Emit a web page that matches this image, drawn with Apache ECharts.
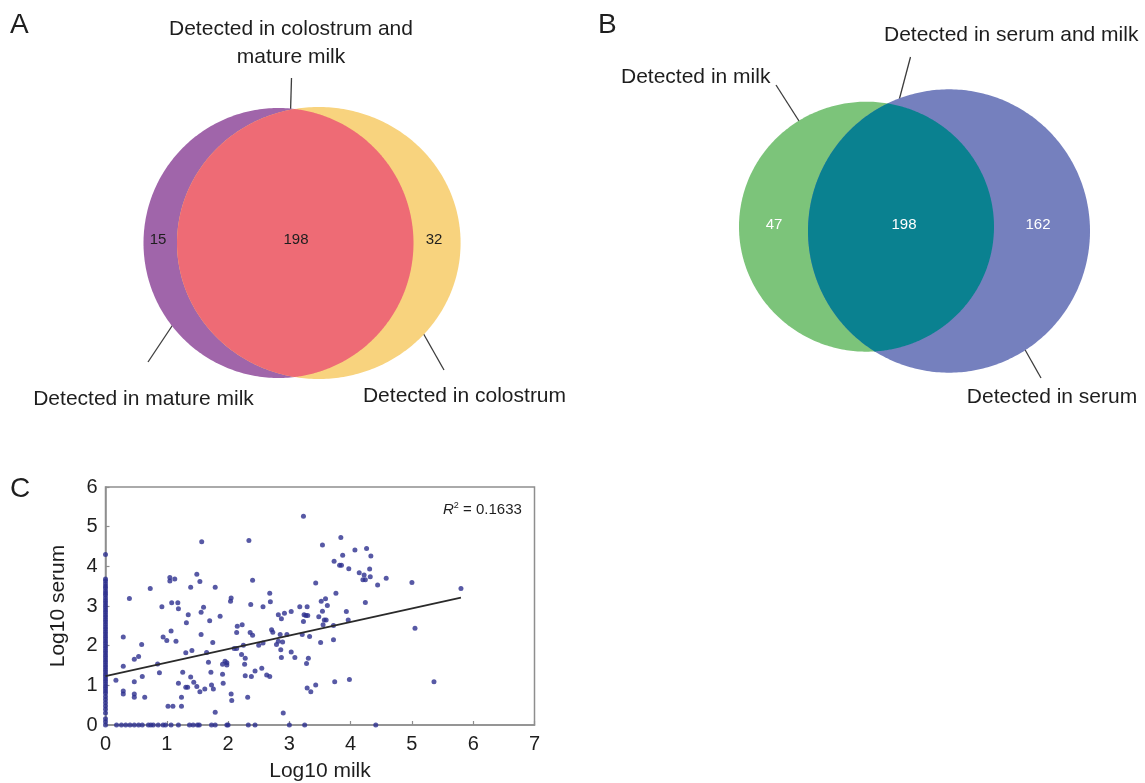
<!DOCTYPE html>
<html>
<head>
<meta charset="utf-8">
<title>Milk and serum detection</title>
<script src="https://cdn.jsdelivr.net/npm/echarts@6/dist/echarts.min.js"></script>
<style>
  html, body { margin: 0; padding: 0; background: #fff; }
  #chart { width: 1145px; height: 783px; }
</style>
</head>
<body>
<div id="chart"></div>
<script>
const FONT = "'Liberation Sans', Arial, sans-serif";
const INK = "#1e1e1e";

// panel A: colostrum vs mature milk
const vennANames = ["Detected in mature milk", "Detected in colostrum", "Detected in colostrum and\nmature milk"];
const vennACounts = [15, 32, 198];

// panel B: milk vs serum
const vennBNames = ["Detected in milk", "Detected in serum", "Detected in serum and milk"];
const vennBCounts = [47, 162, 198];

// panel C: log10 milk vs log10 serum
const xTicks = [0, 1, 2, 3, 4, 5, 6, 7];
const yTicks = [0, 1, 2, 3, 4, 5, 6];

// found in serum only (milk = 0)
const serumAtMilkZero = [
  4.3, 3.68, 3.63, 3.56, 3.5, 3.45, 3.38, 3.32, 3.27, 3.2, 3.14, 3.08, 3.02, 2.96, 2.9,
  2.84, 2.78, 2.72, 2.66, 2.6, 2.54, 2.48, 2.42, 2.36, 2.3, 2.24, 2.18, 2.12, 2.06, 2.0,
  1.94, 1.88, 1.82, 1.76, 1.7, 1.64, 1.58, 1.52, 1.46, 1.4, 1.34, 1.28, 1.22, 1.16, 1.1,
  1.04, 0.98, 0.92, 0.86, 0.8, 0.72, 0.64, 0.56, 0.48, 0.4, 0.3, 0.16, 0.08, 0
];

// found in milk only (serum = 0)
const milkAtSerumZero = [
  0.18, 0.26, 0.33, 0.4, 0.47, 0.54, 0.6, 0.7, 0.74, 0.78, 0.86, 0.94, 0.98, 1.07, 1.19,
  1.37, 1.43, 1.5, 1.53, 1.73, 1.79, 1.98, 2.0, 2.33, 2.44, 3.0, 3.25, 4.41
];

// found in both: [log10 milk, log10 serum]
const milkSerumPairs = [
  [0.39, 3.19], [0.73, 3.44], [1.05, 3.72], [1.05, 3.63], [1.13, 3.68], [1.39, 3.47],
  [0.92, 2.98], [1.08, 3.08], [1.18, 3.08], [1.19, 2.93], [1.35, 2.78], [1.32, 2.58],
  [0.29, 2.22], [0.94, 2.22], [1.0, 2.13], [1.07, 2.37], [1.15, 2.11], [0.59, 2.03],
  [0.54, 1.73], [0.47, 1.66], [0.29, 1.48], [1.31, 1.82], [1.41, 1.88], [0.85, 1.54],
  [0.17, 1.13], [0.47, 1.09], [0.6, 1.22], [0.88, 1.32], [1.19, 1.05], [1.26, 1.33],
  [1.31, 0.95], [1.34, 0.95], [1.39, 1.21], [1.44, 1.08], [0.29, 0.86], [0.29, 0.78],
  [0.47, 0.78], [0.47, 0.7], [0.64, 0.7], [1.24, 0.7], [1.02, 0.47], [1.1, 0.47], [1.24, 0.47],
  [1.57, 4.62], [2.34, 4.65], [1.49, 3.8], [1.54, 3.62], [1.79, 3.47], [2.4, 3.65],
  [2.68, 3.32], [2.69, 3.11], [2.05, 3.2], [2.04, 3.12], [1.6, 2.97], [1.56, 2.84],
  [1.7, 2.63], [1.87, 2.74], [2.37, 3.04], [2.57, 2.98], [2.15, 2.49], [2.23, 2.53],
  [2.14, 2.33], [2.36, 2.33], [2.4, 2.26], [1.56, 2.28], [1.75, 2.08], [2.71, 2.4],
  [2.73, 2.34], [2.82, 2.78], [2.92, 2.82], [3.03, 2.86], [2.87, 2.68], [2.85, 2.28],
  [2.96, 2.28], [2.79, 2.03], [2.89, 2.09], [2.82, 2.11], [2.5, 2.01], [2.57, 2.07],
  [2.25, 2.01], [2.1, 1.93], [2.14, 1.93], [1.65, 1.83], [2.22, 1.78], [2.28, 1.68],
  [1.95, 1.61], [1.98, 1.57], [1.98, 1.51], [1.91, 1.53], [1.68, 1.58], [1.72, 1.33],
  [1.91, 1.28], [2.27, 1.53], [2.28, 1.24], [2.38, 1.22], [2.44, 1.36], [2.55, 1.43],
  [2.63, 1.26], [2.68, 1.22], [2.86, 1.9], [2.87, 1.7], [3.03, 1.84], [1.49, 0.97],
  [1.54, 0.84], [1.62, 0.91], [1.73, 1.01], [1.76, 0.91], [1.92, 1.05], [2.05, 0.78],
  [2.06, 0.62], [2.32, 0.7], [1.79, 0.32], [2.9, 0.3],
  [3.23, 5.26], [3.84, 4.73], [3.54, 4.54], [4.07, 4.41], [4.26, 4.45], [3.87, 4.28],
  [4.33, 4.26], [3.73, 4.13], [3.82, 4.03], [3.85, 4.03], [3.97, 3.94], [4.14, 3.84],
  [4.22, 3.78], [4.31, 3.93], [4.32, 3.74], [4.2, 3.66], [4.24, 3.66], [4.58, 3.7],
  [4.44, 3.53], [3.43, 3.58], [3.76, 3.32], [4.24, 3.09], [3.17, 2.98], [3.29, 2.98],
  [3.52, 3.12], [3.59, 3.18], [3.62, 3.01], [3.54, 2.87], [3.48, 2.73], [3.57, 2.65],
  [3.6, 2.65], [3.55, 2.53], [3.24, 2.78], [3.27, 2.76], [3.3, 2.76], [3.23, 2.61],
  [3.72, 2.51], [3.93, 2.86], [3.96, 2.65], [3.21, 2.28], [3.33, 2.23], [3.51, 2.08],
  [3.72, 2.15], [3.09, 1.7], [3.28, 1.55], [3.31, 1.68], [3.74, 1.09], [3.98, 1.15],
  [3.29, 0.93], [3.35, 0.84], [3.43, 1.01],
  [5.0, 3.59], [5.8, 3.44], [5.05, 2.44], [5.36, 1.09]
];

// fitted line end points and its fit
const trendLine = [[0, 1.23], [5.8, 3.21]];
const rSquared = "0.1633";

// venn geometry, in page pixels of the overlay grid
const VENN_A = {
  shapes: [
    { cx: 278.5, cy: 243, rx: 135, ry: 135, color: "#a065aa" },
    { cx: 318.8, cy: 243, rx: 141.8, ry: 136, color: "#f8d37e" }
  ],
  overlap: "#ee6b75",
  countAt: [[158, 240], [434, 240], [296, 240]],
  countColor: INK
};
const VENN_B = {
  shapes: [
    { cx: 866.5, cy: 226.7, rx: 127.5, ry: 125, color: "#7cc47a" },
    { cx: 949, cy: 231, rx: 141, ry: 141.7, color: "#7580be" }
  ],
  overlap: "#0a8190",
  countAt: [[774, 225], [1038, 225], [904, 225]],
  countColor: "#ffffff"
};

function ellipseRing(s, n) {
  const pts = [];
  for (let i = 0; i < n; i++) {
    const t = (i / n) * Math.PI * 2;
    pts.push([s.cx + s.rx * Math.cos(t), s.cy + s.ry * Math.sin(t)]);
  }
  return pts;
}

function inside(p, s) {
  const dx = (p[0] - s.cx) / s.rx;
  const dy = (p[1] - s.cy) / s.ry;
  return dx * dx + dy * dy <= 1;
}

function overlapRing(a, b) {
  const pts = ellipseRing(a, 720).filter((p) => inside(p, b))
    .concat(ellipseRing(b, 720).filter((p) => inside(p, a)));
  const mx = pts.reduce((s, p) => s + p[0], 0) / pts.length;
  const my = pts.reduce((s, p) => s + p[1], 0) / pts.length;
  return pts.sort((p, q) => Math.atan2(p[1] - my, p[0] - mx) - Math.atan2(q[1] - my, q[0] - mx));
}

function vennSeries(layout, counts) {
  return {
    type: "custom",
    xAxisIndex: 0,
    yAxisIndex: 0,
    silent: true,
    data: counts.map((c, i) => [i, c]),
    renderItem: (params, api) => {
      const k = api.value(0);
      const ring = k < 2 ? ellipseRing(layout.shapes[k], 360) : overlapRing(layout.shapes[0], layout.shapes[1]);
      const pos = api.coord(layout.countAt[k]);
      return {
        type: "group",
        children: [
          {
            type: "polygon",
            z2: k,
            shape: { points: ring.map((p) => api.coord(p)) },
            style: { fill: k < 2 ? layout.shapes[k].color : layout.overlap }
          },
          {
            type: "text",
            z2: 10,
            x: pos[0],
            y: pos[1],
            style: {
              text: String(api.value(1)),
              fill: layout.countColor,
              fontSize: 15,
              fontFamily: FONT,
              align: "center",
              verticalAlign: "middle"
            }
          }
        ]
      };
    }
  };
}

function label(text, x, y, align, size) {
  return {
    type: "text",
    x, y,
    style: {
      text, fill: INK, fontSize: size || 21, fontFamily: FONT,
      align: align || "center", verticalAlign: "middle", lineHeight: 28
    }
  };
}

function leader(x1, y1, x2, y2) {
  return {
    type: "line",
    shape: { x1, y1, x2, y2 },
    style: { stroke: "#3c3c3c", lineWidth: 1.3 }
  };
}

const chart = echarts.init(document.getElementById("chart"), null, { renderer: "canvas" });

chart.setOption({
  animation: false,
  backgroundColor: "#ffffff",
  textStyle: { fontFamily: FONT },
  grid: [
    { left: 0, top: 0, width: 1145, height: 783, show: false },
    {
      left: 105.5, top: 487, width: 429, height: 240,
      show: true, borderColor: "#8e8e8e", borderWidth: 1.5, backgroundColor: "transparent"
    }
  ],
  xAxis: [
    { gridIndex: 0, type: "value", min: 0, max: 1145, show: false },
    {
      gridIndex: 1, type: "value", min: xTicks[0], max: xTicks[xTicks.length - 1], interval: 1,
      name: "Log10 milk", nameLocation: "middle", nameGap: 36,
      nameTextStyle: { fontSize: 21, color: INK, fontFamily: FONT },
      axisLine: { show: true, onZero: false, lineStyle: { color: "#8e8e8e", width: 1.5 } },
      axisTick: { show: true, inside: true, length: 4, lineStyle: { color: "#8e8e8e", width: 1.2 } },
      axisLabel: { fontSize: 20, color: INK, margin: 9, fontFamily: FONT },
      splitLine: { show: false }
    }
  ],
  yAxis: [
    { gridIndex: 0, type: "value", min: 0, max: 783, inverse: true, show: false },
    {
      gridIndex: 1, type: "value", min: yTicks[0], max: yTicks[yTicks.length - 1], interval: 1,
      name: "Log10 serum", nameLocation: "middle", nameGap: 37, nameRotate: 90,
      nameTextStyle: { fontSize: 21, color: INK, fontFamily: FONT },
      axisLine: { show: true, onZero: false, lineStyle: { color: "#8e8e8e", width: 1.5 } },
      axisTick: { show: true, inside: true, length: 4, lineStyle: { color: "#8e8e8e", width: 1.2 } },
      axisLabel: { fontSize: 20, color: INK, margin: 8, fontFamily: FONT },
      splitLine: { show: false }
    }
  ],
  series: [
    vennSeries(VENN_A, vennACounts),
    vennSeries(VENN_B, vennBCounts),
    {
      type: "scatter",
      xAxisIndex: 1,
      yAxisIndex: 1,
      clip: false,
      symbolSize: 5,
      itemStyle: { color: "#2d2f8f" },
      data: serumAtMilkZero.map((y) => [0, y])
        .concat(milkAtSerumZero.map((x) => [x, 0]))
        .concat(milkSerumPairs)
    },
    {
      type: "line",
      xAxisIndex: 1,
      yAxisIndex: 1,
      z: 3,
      showSymbol: false,
      silent: true,
      lineStyle: { color: "#2a2a2a", width: 1.8 },
      data: trendLine
    }
  ],
  graphic: {
    elements: [
      label("A", 10, 25, "left", 28),
      label("B", 598, 25, "left", 28),
      label("C", 10, 489, "left", 28),

      label(vennANames[2], 291, 43),
      leader(291.5, 78, 289.5, 147),
      label(vennANames[0], 143.5, 399),
      leader(180, 314, 148, 362),
      label(vennANames[1], 464.5, 396),
      leader(414, 317, 444, 370),

      label(vennBNames[0], 621, 77, "left"),
      leader(776, 85, 806, 132),
      label(vennBNames[2], 884, 35, "left"),
      leader(910.5, 57, 893, 123),
      label(vennBNames[1], 1052, 397),
      leader(1015, 332, 1041, 378),

      {
        type: "text",
        x: 443, y: 510,
        style: {
          text: "{i|R}{s|2}{n| = " + rSquared + "}",
          fontFamily: FONT,
          fill: INK,
          verticalAlign: "middle",
          rich: {
            i: { fontSize: 15, fontStyle: "italic", fontFamily: FONT, fill: INK },
            s: { fontSize: 9, fontFamily: FONT, fill: INK, padding: [0, 0, 9, 0] },
            n: { fontSize: 15, fontFamily: FONT, fill: INK }
          }
        }
      }
    ]
  }
});
</script>
</body>
</html>
